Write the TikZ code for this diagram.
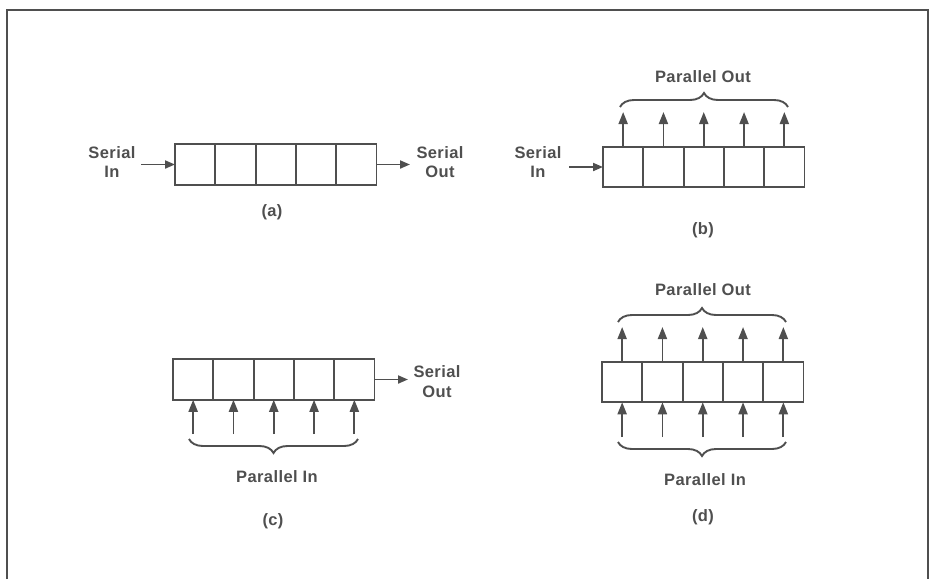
\documentclass[tikz,border=0pt]{standalone}
\usepackage{fontspec}
\setmainfont{Liberation Sans}
\usetikzlibrary{arrows.meta,decorations.pathreplacing}
\definecolor{ink}{HTML}{4F4F4F}
\begin{document}
\begin{tikzpicture}[x=1pt,y=-1pt,
  cell/.style={draw=ink,line width=1.9pt,minimum width=40.3pt,minimum height=40.5pt,inner sep=0pt,outer sep=0pt},
  arr/.style={draw=ink,line width=1.9pt,-{Triangle[length=12pt,width=9pt]}},
  harr/.style={draw=ink,line width=1.9pt,-{Triangle[length=10pt,width=8pt]}},
  lbl/.style={text=ink,font=\fontsize{16.5}{19.5}\selectfont\bfseries\addfontfeature{LetterSpace=2.5},align=center,inner sep=0pt},
  brc/.style={draw=ink,line width=1.9pt,decorate,decoration={brace,amplitude=14pt}},
  frame/.style={draw=ink,line width=1.6pt}]
\useasboundingbox (0,0) rectangle (931,579);
\draw[frame] (7,579) -- (7,10) -- (928,10) -- (928,579);

% (a)
\foreach \i in {1,...,5} \node[cell] (a\i) at ({175+40.3*(\i-0.5)},164.5) {};
\node[lbl] (sia) at (112,162) {Serial\\In};
\node[lbl] (soa) at (440,162) {Serial\\Out};
\coordinate (ain) at (141,164.5);
\coordinate (aout) at (410,164.5);
\draw[harr] (ain) -- (a1.west);
\draw[harr] (a5.east) -- (aout);
\node[lbl] (la) at (272,212) {(a)};

% (b)
\foreach \i in {1,...,5} {
  \node[cell] (b\i) at ({603+40.3*(\i-0.5)},167) {};
  \coordinate (bt\i) at ({603+40.3*(\i-0.5)},112);
  \draw[arr] (b\i.north) -- (bt\i);
}
\node[lbl] (sib) at (538,162) {Serial\\In};
\coordinate (bin) at (569,167);
\draw[harr] (bin) -- (b1.west);
\coordinate (bbl) at (620,107);
\coordinate (bbr) at (788,107);
\draw[brc] (bbl) -- (bbr);
\node[lbl] (pob) at (703,77) {Parallel Out};
\node[lbl] (lb) at (703,230) {(b)};

% (c)
\foreach \i in {1,...,5} {
  \node[cell] (c\i) at ({173+40.3*(\i-0.5)},379.5) {};
  \coordinate (cb\i) at ({173+40.3*(\i-0.5)},434);
  \draw[arr] (cb\i) -- (c\i.south);
}
\node[lbl] (soc) at (437,381.5) {Serial\\Out};
\coordinate (cout) at (408,379.5);
\draw[harr] (c5.east) -- (cout);
\coordinate (cbl) at (189,439);
\coordinate (cbr) at (358,439);
\draw[brc] (cbr) -- (cbl);
\node[lbl] (pic) at (277,477) {Parallel In};
\node[lbl] (lc) at (273,521) {(c)};

% (d)
\foreach \i in {1,...,5} {
  \node[cell] (d\i) at ({602+40.3*(\i-0.5)},382) {};
  \coordinate (dt\i) at ({602+40.3*(\i-0.5)},327);
  \coordinate (db\i) at ({602+40.3*(\i-0.5)},437);
  \draw[arr] (d\i.north) -- (dt\i);
  \draw[arr] (db\i) -- (d\i.south);
}
\coordinate (dtl) at (618,322);
\coordinate (dtr) at (786,322);
\draw[brc] (dtl) -- (dtr);
\coordinate (dbl) at (618,442);
\coordinate (dbr) at (786,442);
\draw[brc] (dbr) -- (dbl);
\node[lbl] (pod) at (703,290) {Parallel Out};
\node[lbl] (pid) at (705,480) {Parallel In};
\node[lbl] (ld) at (703,517) {(d)};
\end{tikzpicture}
\end{document}
